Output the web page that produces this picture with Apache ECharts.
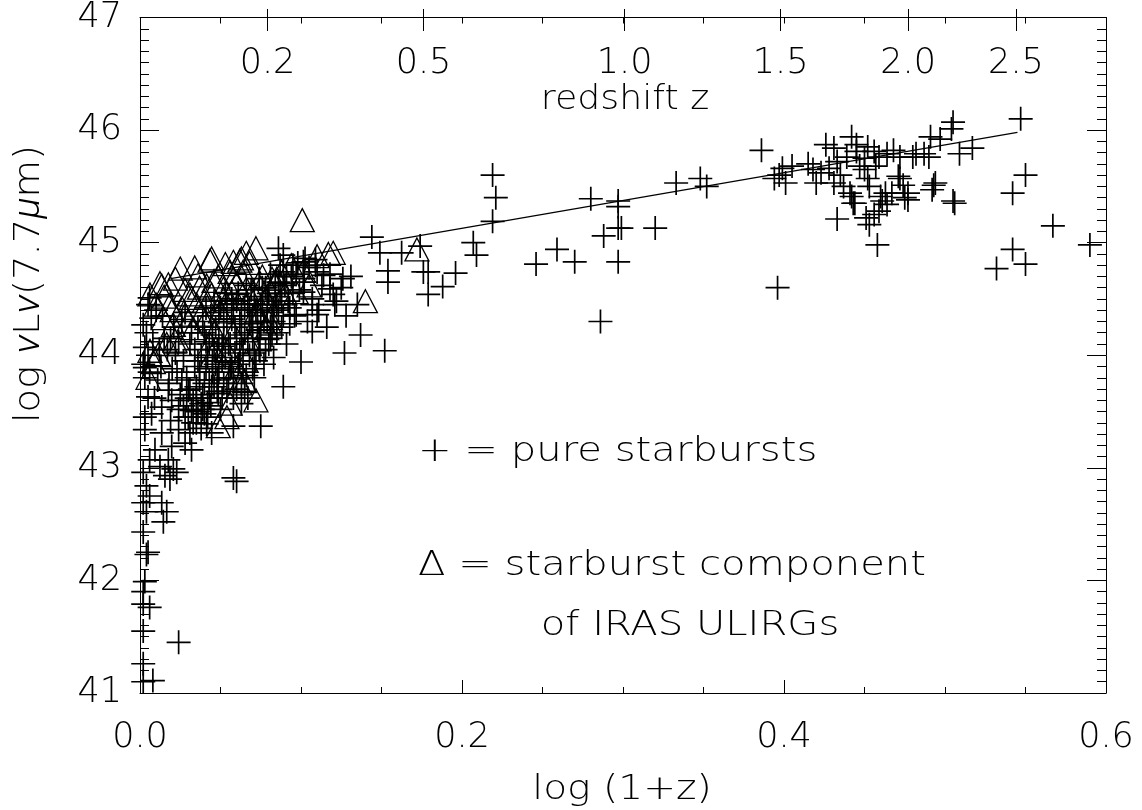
<!DOCTYPE html>
<html><head><meta charset="utf-8">
<script src="https://cdn.jsdelivr.net/npm/echarts@6/dist/echarts.min.js"></script>
<style>html,body{margin:0;padding:0;background:#fff}#c{width:1142px;height:810px}</style>
</head><body><div id="c"></div>
<script>
// ---- data ----
const xTickLabels = ['0.0', '0.2', '0.4', '0.6'];
const yTickLabels = ['41', '42', '43', '44', '45', '46', '47'];
const redshiftLabels = ['0.2', '0.5', '1.0', '1.5', '2.0', '2.5'];

// pure starbursts: [log(1+z), log nuLnu(7.7um)]
const pureStarbursts = [
  // high-z cluster
  [0.386,45.82],[0.396,44.60],[0.397,45.60],[0.394,45.57],[0.401,45.53],[0.399,45.66],[0.405,45.68],[0.418,45.65],
  [0.415,45.70],[0.420,45.53],[0.426,45.87],[0.431,45.84],[0.428,45.66],[0.431,45.53],[0.433,45.72],[0.442,45.94],
  [0.439,45.76],[0.445,45.81],[0.447,45.68],[0.450,45.75],[0.452,45.85],[0.456,45.81],[0.459,45.76],[0.457,45.68],
  [0.452,45.57],[0.442,45.41],[0.443,45.35],[0.433,45.21],[0.456,45.25],[0.453,45.16],[0.459,45.28],[0.458,44.98],
  [0.461,45.37],[0.463,45.44],[0.467,45.44],[0.464,45.79],[0.468,45.82],[0.472,45.76],[0.471,45.59],[0.475,45.40],
  [0.477,45.38],[0.480,45.76],[0.487,45.79],[0.491,45.94],[0.490,45.76],[0.493,45.51],[0.494,45.53],[0.492,45.47],
  [0.505,46.07],[0.504,46.01],[0.506,45.35],[0.509,45.79],[0.517,45.84],[0.547,46.10],[0.550,45.60],[0.542,45.44],
  [0.567,45.15],[0.542,44.94],[0.550,44.81],[0.532,44.77],[0.590,44.98],[0.437,45.50],[0.441,45.44],[0.444,45.35],
  [0.460,45.41],[0.477,45.44],[0.423,45.62],[0.450,45.65],[0.453,45.50],[0.497,45.92],[0.451,45.22],[0.505,45.37],
  [0.474,45.51],[0.445,45.87],[0.435,45.60],[0.464,45.34],[0.482,45.79],[0.472,45.57],
  // intermediate z
  [0.221,45.40],[0.219,45.19],[0.207,45.00],[0.209,44.89],[0.219,45.60],[0.280,45.39],[0.297,45.37],[0.297,45.32],
  [0.297,45.13],[0.299,45.13],[0.288,45.06],[0.320,45.13],[0.259,44.94],[0.270,44.83],[0.246,44.81],[0.297,44.83],
  [0.286,44.30],[0.152,44.04],[0.174,44.97],[0.1625,44.91],[0.154,44.75],[0.154,44.65],[0.176,44.74],[0.179,44.74],
  [0.196,44.73],[0.188,44.61],[0.179,44.54],[0.333,45.53],[0.348,45.57],[0.352,45.50],
  [0.144,45.05],[0.149,44.91],[0.137,44.18],[0.127,44.02],[0.107,44.21],[0.100,43.94],[0.089,43.72],[0.075,43.37],
  [0.058,42.91],[0.060,42.88],[0.121,44.45],[0.120,44.54],[0.126,44.68],[0.118,44.59],[0.110,44.74],[0.1015,44.68],
  [0.095,44.80],[0.089,44.74],[0.1015,44.56],[0.107,44.45],[0.093,44.42],[0.097,44.36],[0.085,44.45],[0.083,44.30],
  [0.081,44.15],[0.091,44.10],[0.083,43.98],[0.0745,44.04],[0.089,44.89],[0.1015,44.83],[0.114,44.71],[0.110,44.36],
  [0.086,44.95],[0.1025,44.86],[0.109,44.80],
  // low z, faint end
  [0.024,41.45],[0.008,41.11],[0.002,41.26],[0.002,41.55],[0.006,41.76],[0.002,41.79],[0.003,41.99],[0.004,42.23],
  [0.005,42.25],[0.002,42.43],[0.0145,42.52],[0.0166,42.61],[0.004,42.61],[0.002,42.69],[0.0135,42.69],[0.006,42.75],
  [0.004,42.84],[0.0186,42.90],[0.0207,42.99],[0.0124,43.01],[0.006,43.07],[0.002,42.96],[0.002,41.90],[0.002,41.10],
  [0.063,43.57],[0.058,43.37],[0.0176,43.07],[0.0093,43.16],[0.028,43.22],[0.0197,43.19],[0.031,43.31],[0.024,43.34],
  [0.0135,43.31],[0.003,43.34],[0.003,43.45],[0.0072,43.48],[0.0135,43.54],[0.0197,43.60],[0.028,43.45],[0.032,43.51],
  [0.038,43.57],[0.0445,43.31],[0.0414,43.39],[0.0486,43.66],[0.0445,43.72],[0.030,43.69],[0.0176,43.69],[0.005,43.63],
  [0.032,43.16],[0.0155,42.93],[0.0228,42.96],
  // dense low-z bulk
  [0.003,43.80],[0.006,43.85],[0.002,43.92],[0.005,44.00],[0.003,44.07],[0.008,44.12],[0.004,44.20],[0.002,44.27],
  [0.007,44.33],[0.005,44.45],[0.006,44.51],[0.010,44.40],[0.012,44.05],[0.011,43.78],[0.009,43.62],[0.013,43.90],
  [0.015,44.15],[0.003,43.89],
  [0.018,43.75],[0.020,43.88],[0.022,44.02],[0.025,43.65],[0.027,43.95],[0.029,43.80],[0.031,44.10],[0.033,43.60],
  [0.034,43.90],[0.021,44.25],[0.026,44.30],[0.017,44.05],[0.030,43.45],[0.035,43.72],[0.024,43.52],[0.032,44.20],
  [0.019,43.42],[0.028,44.38],
  [0.036,43.50],[0.037,43.78],[0.038,44.00],[0.039,43.65],[0.040,44.20],[0.041,43.88],[0.042,43.58],[0.043,44.10],
  [0.044,44.35],[0.045,43.95],[0.046,43.72],[0.047,44.25],[0.048,44.05],[0.049,43.85],[0.050,44.42],[0.051,43.62],
  [0.052,44.15],[0.053,43.98],[0.054,44.30],[0.055,43.80],[0.038,43.35],[0.042,43.45],[0.046,44.48],[0.050,43.52],
  [0.053,44.55],
  [0.056,44.10],[0.057,43.90],[0.058,44.40],[0.059,44.25],[0.060,43.70],[0.061,44.55],[0.062,44.05],[0.063,44.35],
  [0.064,43.85],[0.065,44.20],[0.066,44.62],[0.067,44.45],[0.068,44.00],[0.069,44.30],[0.070,44.15],[0.071,44.52],
  [0.072,43.95],[0.073,44.38],[0.074,44.68],[0.075,44.25],[0.058,43.62],[0.063,43.75],[0.067,43.62],[0.070,43.88],
  [0.074,44.05],
  [0.076,44.45],[0.078,44.60],[0.079,44.30],[0.081,44.72],[0.082,44.18],[0.084,44.52],[0.086,44.40],[0.087,44.80],
  [0.088,44.25],[0.090,44.62],[0.092,44.48],[0.094,44.70],[0.096,44.35],[0.098,44.82],[0.099,44.58],
  [0.102,44.65],[0.104,44.30],[0.105,44.78],[0.107,44.50],[0.109,44.85],[0.111,44.40],[0.113,44.62],[0.116,44.25],
  [0.118,44.72],[0.122,44.48],[0.125,44.60],[0.128,44.35],[0.131,44.70],[0.135,44.45],
  [0.031,43.70],[0.034,44.05],[0.036,43.95],[0.039,44.30],[0.041,44.12],[0.043,43.78],[0.045,44.18],[0.047,43.92],
  [0.049,44.38],[0.051,44.08],[0.052,43.75],[0.054,44.45],[0.056,43.88],[0.057,44.32],[0.059,44.02],[0.060,44.48],
  [0.062,43.95],[0.063,44.18],[0.065,44.42],[0.066,43.82],[0.068,44.28],[0.069,44.58],[0.071,44.02],[0.072,44.40],
  [0.074,44.15],[0.076,44.60],[0.077,43.92],[0.079,44.48],[0.080,44.10],[0.082,44.38],[0.084,44.62],[0.085,44.20],
  [0.087,44.55],[0.089,44.35],[0.091,44.70],[0.093,44.28],[0.095,44.55],[0.097,44.72],[0.044,43.55],[0.048,43.68],
  [0.040,43.48],[0.035,43.40],[0.027,43.55],[0.023,43.85],[0.019,44.15],[0.014,44.35],
  [0.033,43.40],[0.035,43.62],[0.037,43.85],[0.039,43.52],[0.040,43.75],[0.042,43.98],[0.043,43.62],[0.045,43.85],
  [0.046,44.05],[0.048,43.78],[0.049,44.15],[0.051,43.95],[0.052,44.32],[0.054,43.68],[0.055,44.10],[0.057,44.50],
  [0.058,43.80],[0.060,44.15],[0.061,43.92],[0.062,44.28],[0.064,44.05],[0.065,43.68],[0.067,44.12],[0.068,44.40],
  [0.070,44.35],[0.071,43.80],[0.073,44.22],[0.075,44.45],[0.077,44.30],[0.078,44.05],[0.080,44.55],[0.081,44.25],
  [0.083,44.42],[0.086,44.65],[0.088,44.48],[0.029,43.62],[0.026,43.78],[0.024,44.12],[0.036,44.25],[0.041,44.42]
];

// starburst component of IRAS ULIRGs
const ulirgStarbursts = [
  [0.1008,45.20],[0.140,44.48],[0.120,44.91],[0.172,44.94],[0.072,44.95],[0.066,44.91],[0.062,44.84],[0.0435,44.84],
  [0.025,44.77],[0.0135,44.62],[0.0176,44.63],[0.036,44.71],[0.053,44.81],[0.056,44.74],[0.0486,44.70],[0.0414,44.62],
  [0.031,44.54],[0.0186,44.45],[0.0145,44.33],[0.0207,44.27],[0.028,44.36],[0.0352,44.45],[0.0445,44.54],[0.0518,44.59],
  [0.060,44.64],[0.066,44.59],[0.085,44.68],[0.088,44.74],[0.1015,44.75],[0.097,44.56],[0.081,44.33],[0.0725,44.39],
  [0.056,44.45],[0.050,44.39],[0.0414,44.33],[0.033,44.24],[0.0062,44.04],[0.0083,43.94],[0.0166,44.10],[0.0248,44.10],
  [0.0435,44.10],[0.054,44.04],[0.060,43.89],[0.062,43.75],[0.056,43.57],[0.054,43.45],[0.0486,43.37],[0.066,43.95],
  [0.0787,44.24],[0.0466,44.21],[0.0062,44.54],[0.037,44.60],[0.0445,44.86],[0.058,44.83],[0.063,44.86],[0.082,44.68],
  [0.117,44.90],[0.032,44.51],[0.026,44.42],[0.057,44.56],[0.038,44.36],[0.0217,44.13],[0.0114,44.01],[0.005,43.80],
  [0.065,43.77],[0.0735,44.33],[0.080,44.30],[0.084,44.65],[0.0124,44.64],
  [0.010,44.45],[0.015,44.52],[0.022,44.68],[0.028,44.58],[0.034,44.78],[0.040,44.48],[0.046,44.66],[0.052,44.50],
  [0.058,44.68],[0.064,44.74],[0.068,44.82],[0.070,44.56],[0.076,44.70],[0.078,44.50],[0.090,44.55],[0.094,44.80],
  [0.105,44.62],[0.110,44.88],[0.020,44.40],[0.030,44.30],[0.045,44.00],[0.052,43.90],[0.058,44.20],[0.068,44.10],
  [0.072,43.60],[0.075,44.60]
];

const fitLine = [[0.019, 44.68], [0.545, 45.98]];

// ---- rendering ----
const FONT = "'DejaVu Sans'";
const FW = 200;
const INK = '#000';
const zValues = redshiftLabels.map(z => Math.log10(1 + parseFloat(z)));

const chart = echarts.init(document.getElementById('c'), null, {renderer: 'canvas'});
const lineSt = {color: INK, width: 1};
const grid = {left: 140, right: 36, top: 9, bottom: 117, containLabel: false};

const labelText = (extra) => Object.assign({
  fontFamily: FONT, fontWeight: FW, fontSize: 35, color: INK
}, extra || {});

chart.setOption({
  animation: false,
  backgroundColor: '#fff',
  grid: [grid, Object.assign({}, grid)],
  xAxis: [
    { gridIndex: 0, type: 'value', position: 'bottom', min: 0, max: 0.6, interval: 0.2,
      axisLine: {show: true, onZero: false, lineStyle: lineSt},
      axisTick: {show: true, inside: true, length: 13, lineStyle: lineSt},
      minorTick: {show: true, splitNumber: 4, length: 6, lineStyle: lineSt},
      splitLine: {show: false}, minorSplitLine: {show: false},
      axisLabel: labelText({margin: 27, showMinLabel: true, showMaxLabel: true,
        formatter: v => xTickLabels[Math.round(v / 0.2)] || ''}) },
    { gridIndex: 0, type: 'value', position: 'top', min: 0, max: 0.6, interval: 0.05,
      axisLine: {show: true, onZero: false, lineStyle: lineSt},
      axisTick: {show: true, inside: true, length: 6, lineStyle: lineSt},
      axisLabel: {show: false}, splitLine: {show: false} },
    { gridIndex: 1, type: 'value', position: 'top', min: 0, max: 0.6,
      axisLine: {show: false, onZero: false},
      axisTick: {show: true, inside: true, length: 22, lineStyle: lineSt, customValues: zValues},
      axisLabel: labelText({inside: true, margin: 37, customValues: zValues,
        formatter: v => {
          let best = 0;
          zValues.forEach((z, i) => { if (Math.abs(z - v) < Math.abs(zValues[best] - v)) best = i; });
          return redshiftLabels[best];
        }}),
      splitLine: {show: false} }
  ],
  yAxis: [
    { gridIndex: 0, type: 'value', position: 'left', min: 41, max: 47, interval: 1,
      axisLine: {show: true, onZero: false, lineStyle: lineSt},
      axisTick: {show: true, inside: true, length: 19, lineStyle: lineSt},
      minorTick: {show: true, splitNumber: 10, length: 9, lineStyle: lineSt},
      splitLine: {show: false}, minorSplitLine: {show: false},
      axisLabel: labelText({margin: 18, showMinLabel: true, showMaxLabel: true,
        formatter: v => yTickLabels[Math.round(v - 41)] || ''}) },
    { gridIndex: 0, type: 'value', position: 'right', min: 41, max: 47, interval: 1,
      axisLine: {show: true, onZero: false, lineStyle: lineSt},
      axisTick: {show: true, inside: true, length: 19, lineStyle: lineSt},
      minorTick: {show: true, splitNumber: 10, length: 9, lineStyle: lineSt},
      axisLabel: {show: false}, splitLine: {show: false} },
    { gridIndex: 1, type: 'value', show: false, min: 0, max: 1 }
  ],
  series: [
    { type: 'scatter', xAxisIndex: 0, yAxisIndex: 0, data: pureStarbursts, silent: true,
      symbol: 'path://M12,0L12,24M0,12L24,12', symbolSize: 24,
      itemStyle: {color: 'transparent', borderColor: INK, borderWidth: 1.7, opacity: 1},
      emphasis: {disabled: true} },
    { type: 'scatter', xAxisIndex: 0, yAxisIndex: 0, data: ulirgStarbursts, silent: true,
      symbol: 'triangle', symbolSize: [24, 23],
      itemStyle: {color: 'transparent', borderColor: INK, borderWidth: 1.3, opacity: 1},
      emphasis: {disabled: true} },
    { type: 'line', xAxisIndex: 0, yAxisIndex: 0, data: fitLine, silent: true,
      symbol: 'none', lineStyle: {color: INK, width: 1.2}, emphasis: {disabled: true} }
  ],
  graphic: [
    { type: 'text', x: 625, y: 100, scaleX: 1.1, silent: true,
      style: {text: 'redshift z', font: `${FW} 33px ${FONT}`, fill: INK, textAlign: 'center', textVerticalAlign: 'middle'} },
    { type: 'text', x: 418, y: 452, scaleX: 1.18, silent: true,
      style: {text: '+ = pure starbursts', font: `${FW} 34px ${FONT}`, fill: INK, textAlign: 'left', textVerticalAlign: 'middle'} },
    { type: 'text', x: 418, y: 566, scaleX: 1.18, silent: true,
      style: {text: 'Δ = starburst component', font: `${FW} 34px ${FONT}`, fill: INK, textAlign: 'left', textVerticalAlign: 'middle'} },
    { type: 'text', x: 690, y: 626, scaleX: 1.18, silent: true,
      style: {text: 'of IRAS ULIRGs', font: `${FW} 34px ${FONT}`, fill: INK, textAlign: 'center', textVerticalAlign: 'middle'} },
    { type: 'text', x: 622, y: 790, scaleX: 1.15, silent: true,
      style: {text: 'log (1+z)', font: `${FW} 34px ${FONT}`, fill: INK, textAlign: 'center', textVerticalAlign: 'middle'} },
    { type: 'text', x: 30, y: 284, rotation: Math.PI / 2, scaleX: 1.1, silent: true,
      style: {
        text: '{n|log }{i|ν}{n|L}{i|ν}{n|(7.7}{i|μ}{n|m)}',
        textAlign: 'center', textVerticalAlign: 'middle', fill: INK,
        rich: {
          n: {fontFamily: FONT, fontWeight: FW, fontSize: 35, fill: INK},
          i: {fontFamily: 'Roboto', fontWeight: 300, fontStyle: 'italic', fontSize: 36, fill: INK}
        }
      } }
  ]
});
</script>
</body></html>
